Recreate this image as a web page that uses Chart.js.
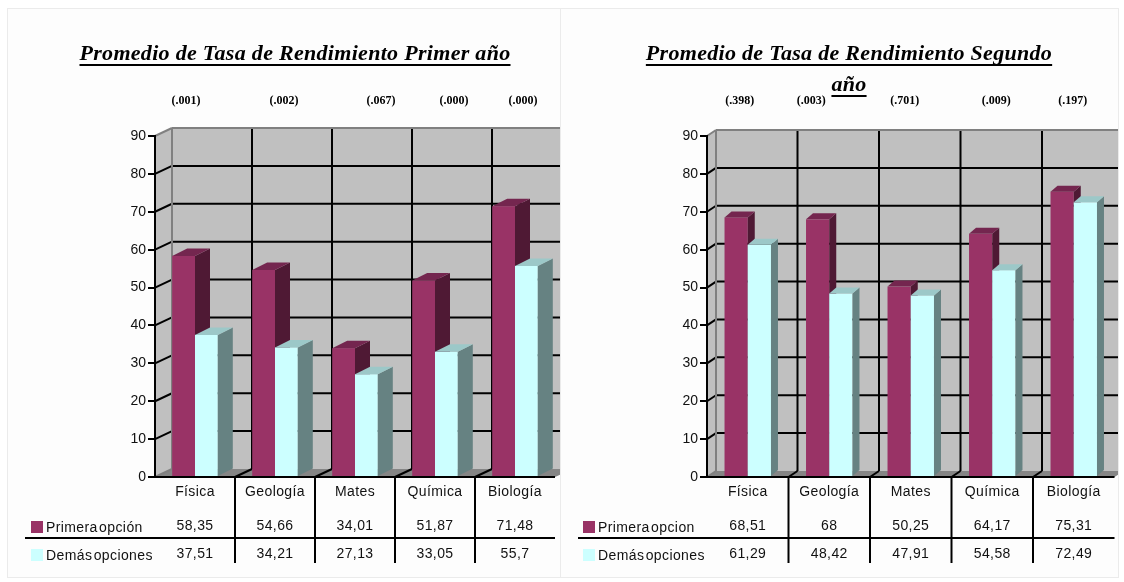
<!DOCTYPE html>
<html>
<head>
<meta charset="utf-8">
<script src="https://cdn.jsdelivr.net/npm/chart.js@4/dist/chart.umd.min.js"></script>
<style>
  html, body { margin: 0; padding: 0; background: #ffffff; width: 1124px; height: 582px; overflow: hidden; }
  .panel { position: absolute; top: 9px; height: 568px; background: #fdfdfd; box-shadow: 0 0 0 1px #ebebeb; }
  #p1 { left: 8px; width: 552px; }
  #p2 { left: 561px; width: 557px; }
  canvas { display: block; }
</style>
</head>
<body>
<div class="panel" id="p1"><canvas id="c1" width="552" height="568"></canvas></div>
<div class="panel" id="p2"><canvas id="c2" width="557" height="568"></canvas></div>
<script>
// Subjects (categories)
const categories = ['Física', 'Geología', 'Mates', 'Química', 'Biología'];

// First-year average performance rate
const primeraAnio1 = [58.35, 54.66, 34.01, 51.87, 71.48];
const demasAnio1   = [37.51, 34.21, 27.13, 33.05, 55.7];
const pValoresAnio1 = ['(.001)', '(.002)', '(.067)', '(.000)', '(.000)'];

// Second-year average performance rate
const primeraAnio2 = [68.51, 68, 50.25, 64.17, 75.31];
const demasAnio2   = [61.29, 48.42, 47.91, 54.58, 72.49];
const pValoresAnio2 = ['(.398)', '(.003)', '(.701)', '(.009)', '(.197)'];

// Value axis
const yMin = 0, yMax = 90, yStep = 10;

const SANS = '"Liberation Sans", Arial, sans-serif';
const SERIF = '"Liberation Serif", "Times New Roman", serif';

const COLORS = {
  faces: [
    { front: '#993366', top: '#74264f', side: '#4f1934' },
    { front: '#ccffff', top: '#9cc8c8', side: '#668282' }
  ],
  wall: '#c0c0c0', floor: '#858585', edge: '#808080'
};

function poly(ctx, pts, fill) {
  ctx.beginPath();
  ctx.moveTo(pts[0][0], pts[0][1]);
  for (let i = 1; i < pts.length; i++) ctx.lineTo(pts[i][0], pts[i][1]);
  ctx.closePath();
  ctx.fillStyle = fill;
  ctx.fill();
}
function seg(ctx, x1, y1, x2, y2) {
  ctx.beginPath(); ctx.moveTo(x1, y1); ctx.lineTo(x2, y2); ctx.stroke();
}
const fmt = v => String(v).replace('.', ',');

// Excel-style 3D box: walls, floor, extruded bars, data table and titles
function box3d(cfg) {
  return {
    id: 'box3d',
    beforeDraw(chart) {
      const { ctx, chartArea: a, scales: { y } } = chart;
      const { wdx, wdy } = cfg;
      const L = a.left, R = a.right;
      const T = y.getPixelForValue(yMax), B = y.getPixelForValue(yMin);
      const n = categories.length, cw = (R - L) / n;
      ctx.save();
      poly(ctx, [[L, T], [L + wdx, T + wdy], [L + wdx, B + wdy], [L, B]], COLORS.wall);
      ctx.fillStyle = COLORS.wall;
      ctx.fillRect(L + wdx, T + wdy, R - L, B - T);
      poly(ctx, [[L, B], [R, B], [R + wdx, B + wdy], [L + wdx, B + wdy]], COLORS.floor);
      ctx.strokeStyle = '#000';
      ctx.lineWidth = 2;
      for (let v = yMin + yStep; v < yMax; v += yStep) {
        const py = y.getPixelForValue(v);
        seg(ctx, L, py, L + wdx, py + wdy);
        seg(ctx, L + wdx, py + wdy, R + wdx, py + wdy);
      }
      for (let i = 1; i < n; i++) {
        const px = L + i * cw;
        seg(ctx, px + wdx, T + wdy, px + wdx, B + wdy);
        seg(ctx, px, B, px + wdx, B + wdy);
      }
      ctx.strokeStyle = COLORS.edge;
      seg(ctx, L, T, L + wdx, T + wdy);
      seg(ctx, L + wdx, T + wdy, R + wdx, T + wdy);
      seg(ctx, L + wdx, T + wdy, L + wdx, B + wdy);
      seg(ctx, L, B, L + wdx, B + wdy);
      ctx.restore();
    },
    afterDatasetsDraw(chart) {
      // extruded bars: series in order, each bar front, side and top
      const { ctx } = chart;
      const { bdx, bdy } = cfg;
      ctx.save();
      chart.data.datasets.forEach((ds, di) => {
        const c = COLORS.faces[di];
        chart.getDatasetMeta(di).data.forEach(el => {
          const { x, y, base, width } = el.getProps(['x', 'y', 'base', 'width'], true);
          const l = x - width / 2, r = x + width / 2;
          ctx.fillStyle = c.front;
          ctx.fillRect(l, y, width, base - y);
          poly(ctx, [[r, y], [r + bdx, y + bdy], [r + bdx, base + bdy], [r, base]], c.side);
          poly(ctx, [[l, y], [r, y], [r + bdx, y + bdy], [l + bdx, y + bdy]], c.top);
        });
      });
      ctx.restore();
    },
    afterDraw(chart) {
      const { ctx, chartArea: a, scales: { y } } = chart;
      const L = a.left, R = a.right;
      const B = y.getPixelForValue(yMin);
      const n = categories.length, cw = (R - L) / n;
      ctx.save();
      // front edge of the floor
      ctx.strokeStyle = '#000';
      ctx.lineWidth = 2;
      seg(ctx, L, B, R, B);

      // data table
      for (let i = 1; i < n; i++) seg(ctx, L + i * cw, B, L + i * cw, B + 86);
      seg(ctx, cfg.tableLeft, B + 61, R, B + 61);
      ctx.fillStyle = '#111';
      ctx.font = '14px ' + SANS;
      ctx.textAlign = 'center';
      ctx.textBaseline = 'middle';
      ctx.letterSpacing = '0.4px';
      const rows = chart.data.datasets;
      categories.forEach((cat, i) => {
        const cx = L + (i + 0.5) * cw;
        ctx.fillText(cat, cx, B + 15);
        ctx.fillText(fmt(rows[0].data[i]), cx, B + 49);
        ctx.fillText(fmt(rows[1].data[i]), cx, B + 77);
      });
      ctx.textAlign = 'left';
      ctx.letterSpacing = '0.4px';
      ctx.wordSpacing = '-3px';
      [[rows[0], COLORS.faces[0].front, B + 50], [rows[1], COLORS.faces[1].front, B + 78]].forEach(([ds, col, ty]) => {
        ctx.fillStyle = col;
        ctx.fillRect(cfg.keyLeft, ty - 6, 12, 12);
        ctx.fillStyle = '#111';
        ctx.fillText(ds.label, cfg.keyLeft + 15, ty + 1);
      });
      ctx.wordSpacing = '0px';

      // significance labels above each subject
      ctx.font = 'bold 12px ' + SERIF;
      ctx.letterSpacing = '0px';
      ctx.textAlign = 'center';
      ctx.fillStyle = '#000';
      cfg.pLabels.forEach((t, i) => {
        ctx.fillText(t, L + (i + 0.5) * cw + cfg.pNudge[i], cfg.pY);
      });

      // underlined title
      ctx.font = 'bold italic 22px ' + SERIF;
      ctx.letterSpacing = '0.3px';
      ctx.textBaseline = 'alphabetic';
      cfg.title.forEach((line, k) => {
        const ty = cfg.titleY + k * cfg.titleLead;
        ctx.fillText(line, cfg.titleX, ty);
        const w = ctx.measureText(line).width;
        ctx.fillRect(cfg.titleX - w / 2, ty + 4, w, 2);
      });
      ctx.restore();
    }
  };
}

function makeChart(id, primera, demas, labels, cfg, pad) {
  return new Chart(document.getElementById(id), {
    type: 'bar',
    data: {
      labels: categories,
      datasets: [
        { label: labels[0], data: primera, backgroundColor: 'rgba(0,0,0,0)' },
        { label: labels[1], data: demas, backgroundColor: 'rgba(0,0,0,0)' }
      ]
    },
    options: {
      responsive: false,
      animation: false,
      devicePixelRatio: 1,
      layout: { padding: pad },
      datasets: { bar: { categoryPercentage: 0.57, barPercentage: 1, borderWidth: 0, clip: false } },
      plugins: { legend: { display: false }, title: { display: false }, tooltip: { enabled: false } },
      scales: {
        x: { display: false },
        y: {
          min: yMin, max: yMax,
          afterFit(s) { s.width = 48; },
          ticks: { stepSize: yStep, color: '#111', padding: 2, font: { family: SANS, size: 14 } },
          grid: { drawOnChartArea: false, drawTicks: true, tickLength: 7, color: '#000', lineWidth: 2 },
          border: { display: true, color: '#000', width: 2 }
        }
      }
    },
    plugins: [box3d(cfg)]
  });
}

makeChart('c1', primeraAnio1, demasAnio1, ['Primera opción', 'Demás opciones'], {
  wdx: 17, wdy: -8, bdx: 15, bdy: -7.5,
  tableLeft: 17, keyLeft: 23,
  pLabels: pValoresAnio1, pNudge: [-9, 9, 26, 19, 8], pY: 92,
  title: ['Promedio de Tasa de Rendimiento Primer año'], titleX: 287, titleY: 51, titleLead: 31
}, { left: 99, right: 5, top: 127, bottom: 100 });

makeChart('c2', primeraAnio2, demasAnio2, ['Primera opcion', 'Demás opciones'], {
  wdx: 9, wdy: -6, bdx: 7, bdy: -6,
  tableLeft: 17, keyLeft: 22,
  pLabels: pValoresAnio2, pNudge: [-8, -18, -6, 4, -1], pY: 92,
  title: ['Promedio de Tasa de Rendimiento Segundo', 'año'], titleX: 288, titleY: 51, titleLead: 31
}, { left: 98, right: 3.5, top: 127, bottom: 100 });
</script>
</body>
</html>
